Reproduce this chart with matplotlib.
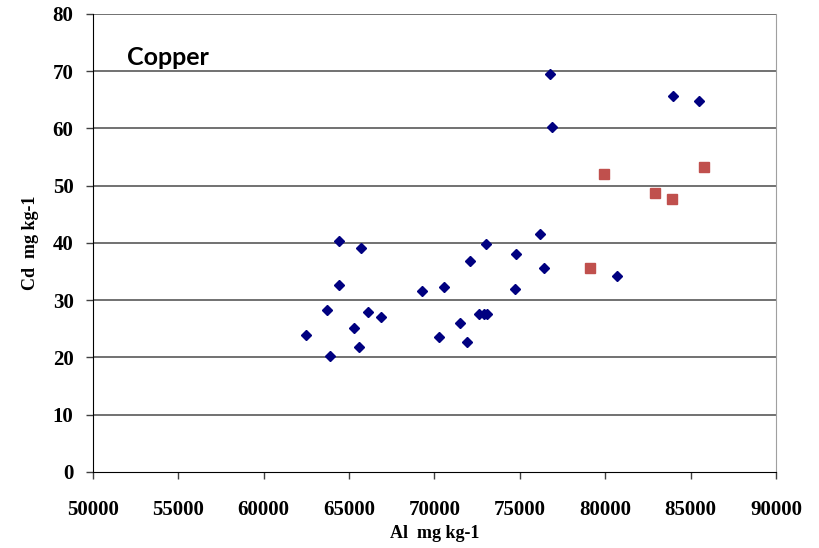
import matplotlib
matplotlib.use("Agg")
import matplotlib.pyplot as plt

# Al (mg/kg) vs Cd (mg/kg), copper panel
al_blue = [62470, 63700, 63880, 64400, 64400, 65290, 65580, 65700, 66100, 66870,
           69270, 70550, 70260, 71490, 71900, 72080, 72600, 72900, 73070, 73020,
           74710, 74770, 76180, 76410, 76760, 76880, 80690, 83970, 85490]
cd_blue = [23.9, 28.3, 20.3, 40.3, 32.7, 25.2, 21.8, 39.1, 27.9, 27.1,
           31.6, 32.3, 23.6, 26.0, 22.7, 36.9, 27.6, 27.6, 27.6, 39.8,
           32.0, 38.1, 41.6, 35.6, 69.5, 60.3, 34.2, 65.7, 64.8]

al_red = [79110, 79930, 82910, 83910, 85780]
cd_red = [35.6, 52.1, 48.8, 47.7, 53.3]

xticks = list(range(50000, 90001, 5000))
yticks = list(range(0, 81, 10))

fig = plt.figure(figsize=(8.2, 5.48), dpi=100)
ax = fig.add_axes([0.1134, 0.1387, 0.8329, 0.8358])

serif = {"family": "Liberation Serif", "weight": "bold"}

# gridlines
for y in yticks[1:]:
    ax.axhline(y, color="#4a4a4a", lw=1.1, zorder=1)

ax.plot(al_blue, cd_blue, "D", color="#000080", ms=4.9, mec="#000080", zorder=3)
ax.plot(al_red, cd_red, "s", color="#C0504D", ms=7.0, mec="#C0504D", zorder=3)

ax.set_xlim(50000, 90000)
ax.set_ylim(0, 80)
ax.set_xticks(xticks)
ax.set_yticks(yticks)
ax.set_xticklabels([str(v) for v in xticks], fontdict=serif, fontsize=15)
ax.set_yticklabels([str(v) for v in yticks], fontdict=serif, fontsize=15)
ax.tick_params(axis="x", direction="out", length=5, width=1, pad=15, color="#404040")
ax.tick_params(axis="y", direction="out", length=5, width=1, pad=9, color="#404040")

ax.spines["left"].set_color("black")
ax.spines["bottom"].set_color("black")
ax.spines["top"].set_visible(False)
ax.spines["right"].set_color("#a0a0a0")

ax.set_xlabel("Al  mg kg-1", fontdict=serif, fontsize=13, labelpad=4)
ax.set_ylabel("Cd  mg kg-1", fontdict=serif, fontsize=13, labelpad=10)

ax.text(0.05, 0.905, "Copper", transform=ax.transAxes, family="Lato",
        weight="bold", fontsize=18, va="center", ha="left")

fig.savefig("out.png", dpi=100)
